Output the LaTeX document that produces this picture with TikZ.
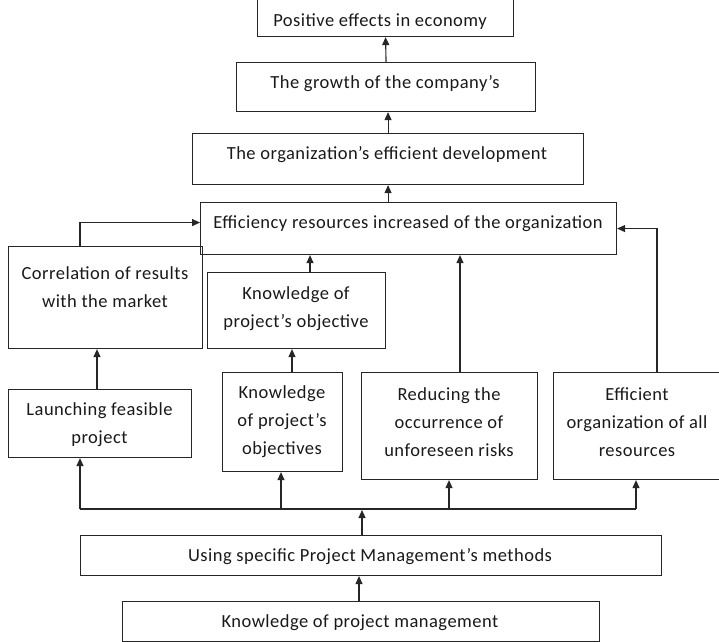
\documentclass[tikz,border=0pt]{standalone}
\usepackage{fontspec}
\setmainfont{Carlito}[LetterSpace=2.6]
\usetikzlibrary{arrows.meta}
\begin{document}
\begin{tikzpicture}[x=1pt,y=-1pt,
  box/.style={draw=black!85, line width=1.1pt, inner sep=0pt, anchor=north west},
  lbl/.style={font=\fontsize{18.5}{28}\selectfont, align=center, inner sep=0pt, text=black!90, yshift=-2pt},
  conn/.style={line width=1.1pt, draw=black!85},
  arr/.style={conn, -{Triangle[length=8pt,width=7pt]}}]
\useasboundingbox (0,0) rectangle (719,641);
% boxes
\node[box, minimum width=256, minimum height=40] (b1) at (257,-4) {};
\node[box, minimum width=299, minimum height=49] (b2) at (236,62) {};
\node[box, minimum width=391, minimum height=51] (b3) at (192,133) {};
\node[box, minimum width=416, minimum height=52] (b4) at (200,202) {};
\node[box, minimum width=194, minimum height=102] (corr) at (8,246) {};
\node[box, minimum width=178, minimum height=76] (kobj) at (207,272) {};
\node[box, minimum width=183, minimum height=68] (launch) at (8,389) {};
\node[box, minimum width=120, minimum height=99] (kobjs) at (222,372) {};
\node[box, minimum width=176, minimum height=107] (reduce) at (361,372) {};
\node[box, minimum width=168, minimum height=107] (effic) at (553,372) {};
\node[box, minimum width=581, minimum height=40] (using) at (80,535) {};
\node[box, minimum width=477, minimum height=40] (kpm) at (122,601) {};
% texts
\node[lbl] (t1) at (380,20) {Positive effects in economy};
\node[lbl] (t2) at (385,82) {The growth of the company’s};
\node[lbl] (t3) at (387,153) {The organization’s efficient development};
\node[lbl] (t4) at (408,222) {Efficiency resources increased of the organization};
\node[lbl] (t5) at (105,285.5) {Correlation of results\\with the market};
\node[lbl] (t6) at (296,306.5) {Knowledge of\\project’s objective};
\node[lbl] (t7) at (99.5,422.5) {Launching feasible\\project};
\node[lbl] (t8) at (282,420) {Knowledge\\of project’s\\objectives};
\node[lbl] (t9) at (449,420) {Reducing the\\occurrence of\\unforeseen risks};
\node[lbl] (t10) at (637,420) {Efficient\\organization of all\\resources};
\node[lbl] (t11) at (370,555) {Using specific Project Management’s methods};
\node[lbl] (t12) at (360,621) {Knowledge of project management};
% connectors
\draw[arr] (b2.north) -- (b1.south);
\draw[arr] (b3.north) -- (b3.north |- b2.south);
\draw[arr] (b3.south |- b4.north) -- (b3.south);
\coordinate (cL) at (80,246);
\draw[arr] (cL) |- ([yshift=6pt]b4.west);
\coordinate (eR) at (657,372);
\draw[arr] (eR) |- (b4.east);
\coordinate (k1) at (310,272);
\draw[arr] (k1) -- (k1 |- b4.south);
\coordinate (r1) at (460,372);
\draw[arr] (r1) -- (r1 |- b4.south);
\coordinate (l1) at (97,389);
\draw[arr] (l1) -- (l1 |- corr.south);
\coordinate (k2) at (292,372);
\draw[arr] (k2) -- (k2 |- kobj.south);
\coordinate (busL) at (80,509);
\coordinate (busR) at (636,509);
\coordinate (bk) at (281,509);
\coordinate (br) at (449,509);
\draw[conn] (busL) -- (busR);
\draw[arr] (busL) -- (busL |- launch.south);
\draw[arr] (bk) -- (bk |- kobjs.south);
\draw[arr] (br) -- (br |- reduce.south);
\draw[arr] (busR) -- (busR |- effic.south);
\coordinate (u1) at (362,535);
\coordinate (ub) at (362,510);
\draw[arr] (u1) -- (ub);
\coordinate (kp) at (359,601);
\draw[arr] (kp) -- (kp |- using.south);
\end{tikzpicture}
\end{document}
